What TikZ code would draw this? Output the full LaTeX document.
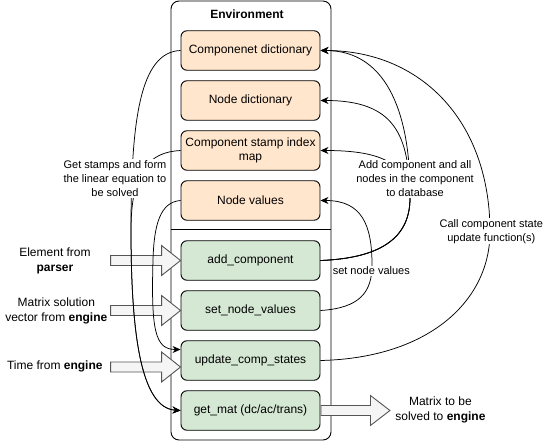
\documentclass[tikz,border=0pt]{standalone}
\usepackage{fontspec}
\setmainfont{Liberation Sans}
\usetikzlibrary{calc,arrows.meta}
\definecolor{orfill}{HTML}{FFE6CC}
\definecolor{grfill}{HTML}{D5E8D4}
\definecolor{bafill}{HTML}{F5F5F5}
\definecolor{bastroke}{HTML}{555555}
\tikzset{
 box/.style={draw=black, rounded corners=6pt, minimum width=139pt, minimum height=39.5pt, align=center, font=\fontsize{12}{14.5}\selectfont, inner sep=1pt, line width=0.9pt},
 obox/.style={box, fill=orfill},
 gbox/.style={box, fill=grfill},
 conn/.style={line width=0.75pt, -{Stealth[length=8pt,width=7pt,inset=2.5pt]}},
 elabel/.style={fill=white, align=center, font=\fontsize{11}{14}\selectfont, inner sep=1pt},
 txt/.style={align=center, font=\fontsize{12}{15}\selectfont, inner sep=0pt},
 blk/.style={draw=bastroke, fill=bafill, line width=0.9pt, line join=miter},
}
\newcommand\blkarrow[3]{%
 \draw[blk] ($(#1)+(#2,-5)$) -- ($(#1)+(#3,-5)$) -- ($(#1)+(#3,-15)$) -- (#1) -- ($(#1)+(#3,15)$) -- ($(#1)+(#3,5)$) -- ($(#1)+(#2,5)$) -- cycle;}
\begin{document}
\begin{tikzpicture}[x=1pt,y=-1pt]
\useasboundingbox (0,0) rectangle (543,441);
% container
\node[draw, rounded corners=8pt, minimum width=160pt, minimum height=439pt, line width=0.9pt] (env) at (251,220.5) {};
\node[font=\bfseries\fontsize{12}{14}\selectfont] (envtitle) at (247,14) {Environment};
\coordinate (div) at (0,229.5);
\draw[line width=0.9pt] (env.west|-div) -- (env.east|-div);
% boxes
\node[obox] (cdict) at (250.5,50.5) {Componenet dictionary};
\node[obox] (ndict) at (250.5,100.5) {Node dictionary};
\node[obox] (stamp) at (250.5,150.5) {Component stamp index\\map};
\node[obox] (nval) at (250.5,200.5) {Node values};
\node[gbox] (addc) at (250.5,260.5) {add\_component};
\node[gbox] (setn) at (250.5,310.5) {set\_node\_values};
\node[gbox] (upd) at (250.5,360.5) {update\_comp\_states};
\node[gbox] (getm) at (250.5,410.5) {get\_mat (dc/ac/trans)};
% block arrows
\coordinate (t1) at (addc.west);
\coordinate (t2) at (setn.west);
\coordinate (t3) at ($(upd.west)+(0,6.5)$);
\coordinate (t4) at ($(getm.east)+(69.5,0)$);
\blkarrow{t1}{-70}{-19}
\blkarrow{t2}{-70}{-19}
\blkarrow{t3}{-70}{-19}
\blkarrow{t4}{-69}{-19.5}
% outside labels
\node[txt] (l1) at (55,260.8) {Element from\\\textbf{parser}};
\node[txt] (l2) at (56.3,310.5) {Matrix solution\\vector from \textbf{engine}};
\node[txt] (l3) at (54.8,366.7) {Time from \textbf{engine}};
\node[txt] (l4) at (440.4,410.3) {Matrix to be\\solved to \textbf{engine}};
% left curves
\coordinate (updin) at ($(upd.west)+(0,-11)$);
\draw[conn] (cdict.west) .. controls (140,52) and (131,120) .. (131,230) .. controls (131,330) and (140,408) .. (getm.west);
\draw[conn] (stamp.west) .. controls (150,152) and (131,170) .. (131,230) .. controls (131,330) and (140,408) .. (getm.west);
\draw[conn] (nval.west) .. controls (160,202) and (154,225) .. (153,260) .. controls (151,330) and (155,349.5) .. (updin);
\node[elabel] (gs) at (115,178.5) {Get stamps and form\\the linear equation to\\be solved};
% right curves
\coordinate (jr) at (410,198);
\draw[conn] (addc.east) .. controls (385,258) and (410,235) .. (jr) .. controls (411,120) and (390,50.5) .. (cdict.east);
\draw[conn] (addc.east) .. controls (385,258) and (410,235) .. (jr) .. controls (409,135) and (395,100.5) .. (ndict.east);
\draw[conn] (addc.east) .. controls (385,258) and (410,235) .. (jr) .. controls (406,165) and (385,150.5) .. (stamp.east);
\node[elabel] (addlbl) at (415,179) {Add component and all\\nodes in the component\\to database};
\draw[conn] (setn.east) .. controls (360,308) and (372,292) .. (372,265) .. controls (372,225) and (362,200.5) .. (nval.east);
\node[elabel] (snv) at (371.3,271) {set node values};
\draw[conn] (upd.east) .. controls (430,358) and (490,300) .. (490,232) .. controls (490,120) and (420,50.5) .. (cdict.east);
\node[elabel] (ccs) at (491.3,231.3) {Call component state\\update function(s)};
\end{tikzpicture}
\end{document}
